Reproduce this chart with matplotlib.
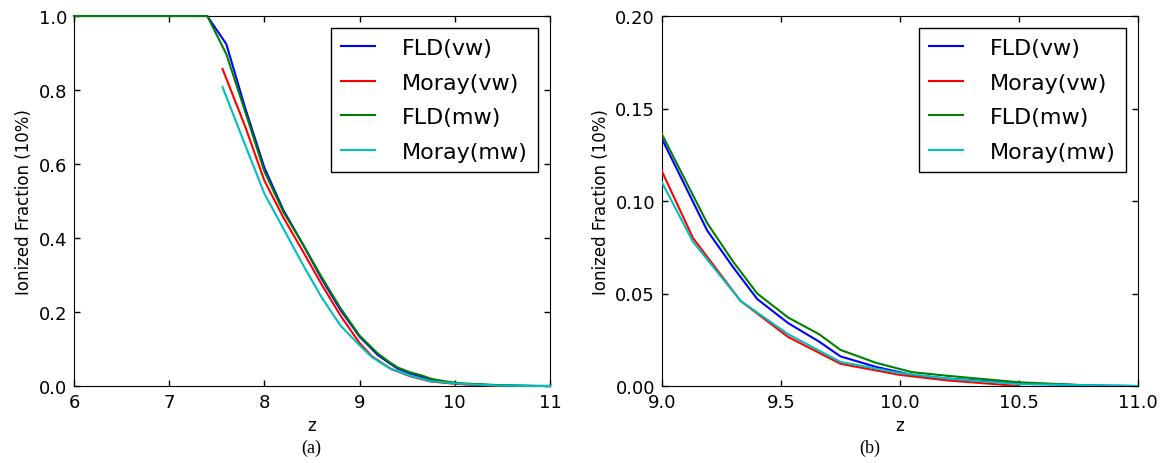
import numpy as np
import matplotlib
matplotlib.use("Agg")
import matplotlib.pyplot as plt

# ---- data ----
z_fld_vw = [6.0, 7.4, 7.6, 7.8, 8.0, 8.2, 8.4, 8.6, 8.8, 9.0, 9.19, 9.30, 9.40, 9.53, 9.66, 9.75, 9.90, 10.05, 10.2, 10.5, 10.8, 11.0]
f_fld_vw = [1.0, 1.0, 0.924, 0.75, 0.59, 0.475, 0.385, 0.29, 0.205, 0.1335, 0.084, 0.064, 0.047, 0.034, 0.024, 0.016, 0.0103, 0.006, 0.004, 0.0015, 0.0003, 0.0]

z_moray_vw = [7.56, 7.8, 8.0, 8.2, 8.4, 8.6, 8.8, 9.0, 9.13, 9.33, 9.53, 9.75, 10.0, 10.2, 10.5]
f_moray_vw = [0.857, 0.70, 0.555, 0.455, 0.366, 0.275, 0.19, 0.116, 0.080, 0.046, 0.0265, 0.012, 0.006, 0.003, 0.0]

z_fld_mw = [6.0, 7.4, 7.6, 7.8, 8.0, 8.2, 8.4, 8.6, 8.8, 9.0, 9.19, 9.30, 9.40, 9.53, 9.66, 9.75, 9.90, 10.05, 10.2, 10.5, 10.85, 11.0]
f_fld_mw = [1.0, 1.0, 0.897, 0.74, 0.58, 0.47, 0.385, 0.295, 0.21, 0.136, 0.088, 0.067, 0.05, 0.037, 0.028, 0.0195, 0.0125, 0.0075, 0.0055, 0.002, 0.0, 0.0]

z_moray_mw = [7.56, 7.8, 8.0, 8.2, 8.4, 8.6, 8.8, 9.0, 9.13, 9.33, 9.53, 9.75, 10.0, 10.2, 10.5, 11.0]
f_moray_mw = [0.808, 0.65, 0.52, 0.425, 0.33, 0.24, 0.163, 0.110, 0.078, 0.046, 0.028, 0.013, 0.007, 0.004, 0.001, 0.0]

labels = ['FLD(vw)', 'Moray(vw)', 'FLD(mw)', 'Moray(mw)']
colors = ['b', 'r', 'g', 'c']
series = [(z_fld_vw, f_fld_vw), (z_moray_vw, f_moray_vw), (z_fld_mw, f_fld_mw), (z_moray_mw, f_moray_mw)]

plt.rcParams['font.family'] = ['DejaVu Sans']
plt.rcParams['xtick.direction'] = 'in'
plt.rcParams['ytick.direction'] = 'in'
plt.rcParams['xtick.top'] = True
plt.rcParams['ytick.right'] = True
plt.rcParams['xtick.major.size'] = 4
plt.rcParams['ytick.major.size'] = 4

fig = plt.figure(figsize=(11.66, 4.64), dpi=100)
fig.patch.set_facecolor('white')

ax1 = fig.add_axes([74/1166, 1-387/464, 476/1166, 370/464])
ax2 = fig.add_axes([662/1166, 1-387/464, 476/1166, 370/464])

for ax in (ax1, ax2):
    for (z, f), c, lab in zip(series, colors, labels):
        # left panel: all data inside the box, let the z<7.4 plateau show over the top spine
        ax.plot(z, f, color=c, linewidth=1.5, label=lab, clip_on=(ax is ax2), zorder=3)
    ax.set_xlabel('z', fontsize=12)
    ax.set_ylabel('Ionized Fraction (10%)', fontsize=12)
    ax.tick_params(labelsize=13, width=1, pad=5)
    leg = ax.legend(loc='upper right', fontsize=16, fancybox=False, framealpha=1,
                    edgecolor='black', handlelength=1.55, handletextpad=1.2,
                    labelspacing=0.65, borderaxespad=0.55, borderpad=0.45)
    leg.get_frame().set_linewidth(1.0)
    leg.set_zorder(5)

ax1.set_xlim(6, 11)
ax1.set_ylim(0, 1.0)
ax1.set_xticks([6, 7, 8, 9, 10, 11])
ax1.set_yticks(np.arange(0, 1.01, 0.2))
ax1.yaxis.set_major_formatter(matplotlib.ticker.FormatStrFormatter('%.1f'))

ax2.set_xlim(9, 11)
ax2.set_ylim(0, 0.2)
ax2.set_xticks(np.arange(9, 11.01, 0.5))
ax2.set_yticks(np.arange(0, 0.201, 0.05))
ax2.xaxis.set_major_formatter(matplotlib.ticker.FormatStrFormatter('%.1f'))
ax2.yaxis.set_major_formatter(matplotlib.ticker.FormatStrFormatter('%.2f'))

fig.text(311/1166, 1-448/464, '(a)', ha='center', va='center', fontsize=13, family='Liberation Serif')
fig.text(870/1166, 1-448/464, '(b)', ha='center', va='center', fontsize=13, family='Liberation Serif')

fig.savefig('out.png', dpi=100, facecolor='white')
